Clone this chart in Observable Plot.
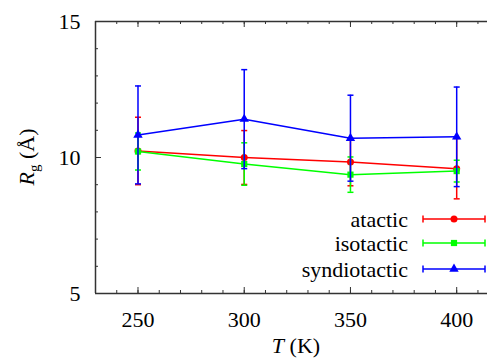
<!DOCTYPE html>
<html><head><meta charset="utf-8">
<script src="https://cdn.jsdelivr.net/npm/d3@7"></script>
<script src="https://cdn.jsdelivr.net/npm/@observablehq/plot@0.6"></script>
<style>html,body{margin:0;padding:0;background:#fff;overflow:hidden}</style>
</head><body><div id="chart"></div>
<script>
// ---- data ----
const temperatures = [250, 300, 350, 400];
const atactic = [10.24, 10.00, 9.83, 9.59];
const atacticErr = [1.24, 0.99, 0.87, 1.11];
const isotactic = [10.22, 9.76, 9.37, 9.50];
const isotacticErr = [0.68, 0.78, 0.65, 0.40];
const syndiotactic = [10.83, 11.41, 10.71, 10.76];
const syndiotacticErr = [1.80, 1.82, 1.58, 1.83];
const seriesNames = ["atactic", "isotactic", "syndiotactic"];
const seriesColors = ["#ff0000", "#00ff00", "#0000ff"];
const seriesSymbols = ["circle", "square", "triangle"];
const xTicks = [250, 300, 350, 400];
const xMinorTicks = [240, 250, 260, 270, 280, 290, 300, 310, 320, 330, 340, 350, 360, 370, 380, 390, 400, 410];
const yTicks = [5, 10, 15];
const yMinorTicks = [6, 7, 8, 9, 11, 12, 13, 14];
const xDomain = [230, 414.5];
const yDomain = [5, 15];

// ---- layout ----
const W = 487, H = 363, mL = 95, mT = 21, mB = 70, mR = 0;
const innerW = W - mL - mR, innerH = H - mT - mB;
const FONT = "Liberation Serif";
const axisColor = "#333";

const allValues = [atactic, isotactic, syndiotactic];
const allErrs = [atacticErr, isotacticErr, syndiotacticErr];
const rows = seriesNames.map((name, s) => temperatures.map((T, i) => ({
  series: name, T, v: allValues[s][i], lo: allValues[s][i] - allErrs[s][i], hi: allValues[s][i] + allErrs[s][i]
})));

const capSymbol = { draw(context, size) { const r = Math.sqrt(size / Math.PI); context.moveTo(-r, 0); context.lineTo(r, 0); } };

const seriesMarks = rows.flatMap((data, s) => [
  Plot.line(data, {x: "T", y: "v", stroke: seriesColors[s], strokeWidth: 1.5}),
  Plot.ruleX(data, {x: "T", y1: "lo", y2: "hi", stroke: seriesColors[s], strokeWidth: 1.5}),
  Plot.dot(data, {x: "T", y: "lo", symbol: capSymbol, r: 3, stroke: seriesColors[s], strokeWidth: 1.5}),
  Plot.dot(data, {x: "T", y: "hi", symbol: capSymbol, r: 3, stroke: seriesColors[s], strokeWidth: 1.5}),
  Plot.dot(data, {x: "T", y: "v", symbol: seriesSymbols[s], r: 3.5, fill: seriesColors[s], stroke: "none"})
]);

const tickStyle = {stroke: axisColor, strokeWidth: 1};
const chart = Plot.plot({
  width: W, height: H,
  marginLeft: mL, marginTop: mT, marginBottom: mB, marginRight: mR,
  style: {fontFamily: FONT, fontSize: "22px"},
  x: {domain: xDomain, label: null},
  y: {domain: yDomain, label: null},
  marks: [
    Plot.tickX(xMinorTicks, {x: d => d, insetTop: innerH - 3, ...tickStyle}),
    Plot.tickX(xTicks, {x: d => d, insetTop: innerH - 6, ...tickStyle}),
    Plot.tickX(xMinorTicks, {x: d => d, insetBottom: innerH - 3, ...tickStyle}),
    Plot.tickX(xTicks, {x: d => d, insetBottom: innerH - 6, ...tickStyle}),
    Plot.tickY(yMinorTicks, {y: d => d, insetRight: innerW - 3, ...tickStyle}),
    Plot.tickY(yTicks, {y: d => d, insetRight: innerW - 6, ...tickStyle}),
    Plot.axisX(xTicks, {tickSize: 0, tickPadding: 18, label: null, fontSize: 22}),
    Plot.axisY(yTicks, {tickSize: 0, tickPadding: 15, label: null, fontSize: 22}),
    ...seriesMarks,
    Plot.ruleX([xDomain[0]], {stroke: axisColor, strokeWidth: 1.5}),
    Plot.ruleY(yDomain, {stroke: axisColor, strokeWidth: 1.5})
  ]
});
document.getElementById("chart").appendChild(chart);

const svg = d3.select(chart);
// y-axis label
const yl = svg.append("text").attr("transform", "translate(34,157) rotate(-90)")
  .attr("text-anchor", "middle").attr("font-family", FONT).attr("font-size", 22).attr("fill", "#000");
yl.append("tspan").attr("font-style", "italic").text("R");
yl.append("tspan").attr("font-size", 15).attr("dy", 5).text("g");
yl.append("tspan").attr("dy", -5).text(" (\u00C5)");
// x-axis label
const xl = svg.append("text").attr("x", 296).attr("y", 353)
  .attr("text-anchor", "middle").attr("font-family", FONT).attr("font-size", 22).attr("fill", "#000");
xl.append("tspan").attr("font-style", "italic").text("T");
xl.append("tspan").text(" (K)");

// legend
const legendRows = [219, 243, 269];
const sym = {circle: d3.symbolCircle, square: d3.symbolSquare, triangle: d3.symbolTriangle};
seriesNames.forEach((name, s) => {
  const cy = legendRows[s];
  const g = svg.append("g");
  g.append("text").attr("x", 408).attr("y", cy + 7.5).attr("text-anchor", "end")
    .attr("font-family", FONT).attr("font-size", 22).attr("fill", "#000").text(name);
  g.append("line").attr("x1", 423).attr("x2", 485).attr("y1", cy).attr("y2", cy)
    .attr("stroke", seriesColors[s]).attr("stroke-width", 1.5);
  [423, 485].forEach(x => g.append("line").attr("x1", x).attr("x2", x).attr("y1", cy - 3.5).attr("y2", cy + 3.5)
    .attr("stroke", seriesColors[s]).attr("stroke-width", 1.5));
  g.append("path").attr("transform", `translate(454,${cy})`)
    .attr("d", d3.symbol(sym[seriesSymbols[s]], 3.5 * 3.5 * Math.PI)()).attr("fill", seriesColors[s]);
});
</script>
</body></html>
